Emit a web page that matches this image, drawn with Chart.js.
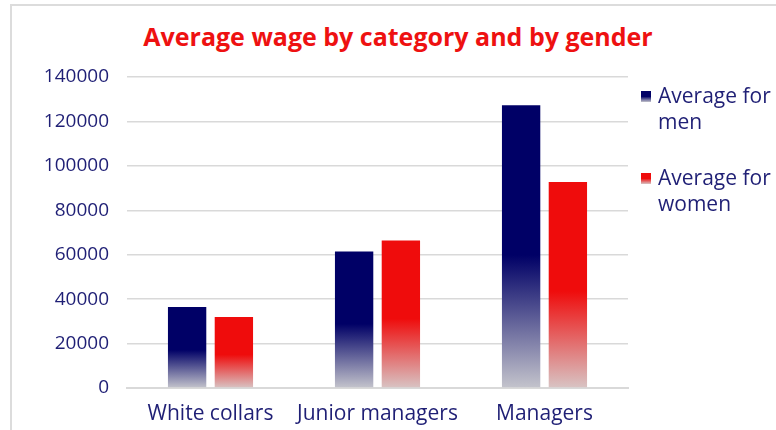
<!DOCTYPE html>
<html>
<head>
<meta charset="utf-8">
<script src="https://cdn.jsdelivr.net/npm/chart.js@4.4.1/dist/chart.umd.min.js"></script>
<style>
  html, body { margin: 0; padding: 0; background: #fff; }
  body { width: 776px; height: 430px; overflow: hidden; position: relative; }
  #frame {
    position: absolute; left: 10px; top: 4px;
    width: 772px; height: 440px;
    border-left: 2px solid #dcdcdc; border-top: 2px solid #dcdcdc;
    box-sizing: border-box;
  }
  #title {
    position: absolute; left: 0; top: 13px; width: 772px; text-align: center;
    font-family: 'Open Sans', sans-serif; font-size: 25px; font-weight: bold;
    color: #ee1111; line-height: 34px;
  }
  #wrap { position: absolute; left: 0; top: 0; width: 770px; height: 438px; }
  #legend {
    position: absolute; left: 629px; top: 76px;
    font-family: 'Open Sans', sans-serif; font-size: 21px; color: #1f1f75;
    line-height: 26px;
  }
  .item { position: relative; padding-left: 17px; margin-bottom: 30px; }
  .swatch { position: absolute; left: 0; top: 9px; width: 10px; height: 11px; }
</style>
</head>
<body>
<div id="frame">
  <div id="title">Average wage by category and by gender</div>
  <div id="wrap"><canvas id="wageChart"></canvas></div>
  <div id="legend"></div>
</div>
<script>
'use strict';

/* ── DATA ── */
const CATEGORIES = ['White collars', 'Junior managers', 'Managers'];
const MEN_AVG    = [36500, 61400, 127300];
const WOMEN_AVG  = [32000, 66400, 92700];
const SERIES_NAMES = [['Average for', 'men'], ['Average for', 'women']];
const Y_MIN = 0, Y_MAX = 140000, Y_STEP = 20000;

/* ── PALETTE ── */
const NAVY = '#000066';
const RED  = '#ef0c0c';
const NAVY_FADE = '#c4c4cc';
const RED_FADE  = '#d8c4c4';
const TEXT = '#1f1f75';
const GRID = '#d9d9d9';

// each bar fades from solid (upper half) to light grey at its base
function barFill(solid, fade) {
  return (c) => {
    const chart = c.chart;
    if (!chart.chartArea || c.type !== 'data') return solid;
    const y = chart.scales.y;
    const top  = y.getPixelForValue(c.raw);
    const base = y.getPixelForValue(0);
    const g = chart.ctx.createLinearGradient(0, base, 0, top);
    g.addColorStop(0, fade);
    g.addColorStop(0.47, solid);
    g.addColorStop(1, solid);
    return g;
  };
}

const FONT = "'Open Sans', sans-serif";

new Chart(document.getElementById('wageChart'), {
  type: 'bar',
  data: {
    labels: CATEGORIES,
    datasets: [
      { label: SERIES_NAMES[0].join(' '), data: MEN_AVG,   backgroundColor: barFill(NAVY, NAVY_FADE) },
      { label: SERIES_NAMES[1].join(' '), data: WOMEN_AVG, backgroundColor: barFill(RED, RED_FADE) }
    ]
  },
  options: {
    responsive: true,
    maintainAspectRatio: false,
    animation: false,
    layout: { padding: { left: 0, right: 154, top: 71, bottom: 0 } },
    datasets: { bar: { categoryPercentage: 0.56, barPercentage: 0.82 } },
    plugins: {
      legend: { display: false },
      tooltip: { enabled: false },
      title: { display: false }
    },
    scales: {
      x: {
        grid: { display: false },
        border: { color: GRID, width: 2 },
        ticks: { color: TEXT, font: { family: FONT, size: 21 }, padding: 5 },
        afterFit: s => { s.height = 56; }
      },
      y: {
        min: Y_MIN, max: Y_MAX,
        grid: { color: GRID, lineWidth: 1.5, drawTicks: false },
        border: { display: false },
        ticks: {
          stepSize: Y_STEP, color: TEXT, font: { family: FONT, size: 19 }, padding: 18,
          callback: v => String(v)
        },
        afterFit: s => { s.width = 115; }
      }
    }
  }
});

/* ── LEGEND ── */
const legend = document.getElementById('legend');
[[NAVY, NAVY_FADE], [RED, RED_FADE]].forEach(([solid, fade], i) => {
  const item = document.createElement('div');
  item.className = 'item';
  const sw = document.createElement('span');
  sw.className = 'swatch';
  sw.style.background = `linear-gradient(${solid} 0%, ${solid} 50%, ${fade} 100%)`;
  item.appendChild(sw);
  SERIES_NAMES[i].forEach(line => {
    const d = document.createElement('div');
    d.textContent = line;
    item.appendChild(d);
  });
  legend.appendChild(item);
});
</script>
</body>
</html>
